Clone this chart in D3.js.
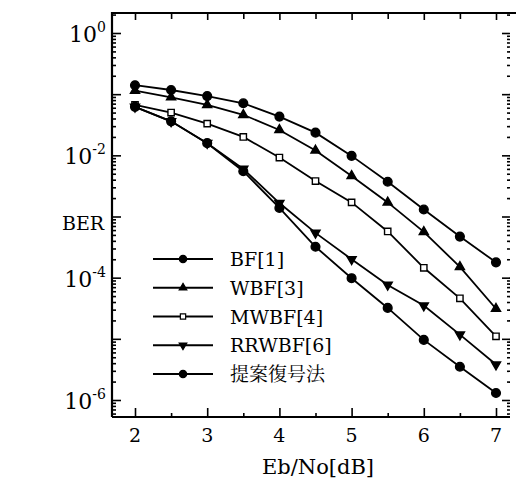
<!DOCTYPE html>
<html>
<head>
<meta charset="utf-8">
<script src="https://cdn.jsdelivr.net/npm/d3@7"></script>
<style>
  body { margin: 0; background: #fff; }
  svg { display: block; }
</style>
</head>
<body>
<div id="chart"></div>
<script>
// data
var ebno = [2, 2.5, 3, 3.5, 4, 4.5, 5, 5.5, 6, 6.5, 7];
var berBF = [0.14, 0.117, 0.093, 0.071, 0.043, 0.0235, 0.0098, 0.0037, 0.0013, 4.7e-4, 1.78e-4];
var berWBF = [0.114, 0.089, 0.067, 0.046, 0.026, 0.012, 0.0046, 0.0017, 5.6e-4, 1.5e-4, 3.1e-5];
var berMWBF = [0.067, 0.05, 0.033, 0.02, 0.0092, 0.0038, 0.0017, 5.7e-4, 1.45e-4, 4.6e-5, 1.1e-5];
var berRRWBF = [0.062, 0.036, 0.0158, 0.006, 0.00166, 5.4e-4, 2.0e-4, 7.6e-5, 3.5e-5, 1.17e-5, 3.8e-6];
var berProposed = [0.062, 0.036, 0.0158, 0.0055, 0.00138, 3.2e-4, 9.8e-5, 3.2e-5, 9.6e-6, 3.5e-6, 1.3e-6];
var seriesNames = ["BF[1]", "WBF[3]", "MWBF[4]", "RRWBF[6]", "提案復号法"];
var xTicks = [2, 3, 4, 5, 6, 7];
var yLabelExps = [0, -2, -4, -6];

var serif = "DejaVu Serif";
var jpFont = "Noto Serif CJK JP";

var width = 516, height = 483;
var pLeft = 112, pRight = 510, pTop = 13, pBottom = 417;

var svg = d3.select("#chart").append("svg")
  .attr("width", width).attr("height", height);

var x = d3.scaleLinear().domain([2, 7]).range([135, 496]);
var y = d3.scaleLog().domain([1, 1e-6]).range([33, 400]);

var decades = d3.range(1, -7, -1).map(function (e) { return Math.pow(10, e); });
var minors = [];
for (var e = 0; e >= -7; e--) {
  for (var m = 2; m <= 9; m++) {
    var v = m * Math.pow(10, e);
    if (y(v) > pTop + 1 && y(v) < pBottom - 1) minors.push(v);
  }
}
var majors = decades.filter(function (v) { return y(v) > pTop && y(v) < pBottom; });
var halfTicks = [2.5, 3.5, 4.5, 5.5, 6.5];

function tickAxis(axis, pos, vals, size) {
  var g = svg.append("g").attr("transform", pos)
    .call(axis.tickValues(vals).tickSizeInner(size).tickSizeOuter(0).tickFormat(""));
  g.select(".domain").remove();
  g.selectAll("line").attr("stroke", "#000").attr("stroke-width", 1.6);
  return g;
}

// left / right ticks (inward)
tickAxis(d3.axisLeft(y), "translate(" + pLeft + ",0)", majors, -9);
tickAxis(d3.axisLeft(y), "translate(" + pLeft + ",0)", minors, -4);
tickAxis(d3.axisRight(y), "translate(" + pRight + ",0)", majors, -8);
tickAxis(d3.axisRight(y), "translate(" + pRight + ",0)", minors, -3);
// bottom / top ticks
tickAxis(d3.axisBottom(x), "translate(0," + pBottom + ")", xTicks, -9);
tickAxis(d3.axisBottom(x), "translate(0," + pBottom + ")", halfTicks, -4);
tickAxis(d3.axisTop(x), "translate(0," + pTop + ")", xTicks, -7);
tickAxis(d3.axisTop(x), "translate(0," + pTop + ")", halfTicks, -6);

// frame (right side is cut off in the scan, only ticks show)
svg.append("path")
  .attr("d", "M" + pLeft + "," + pBottom + "V" + pTop + "H" + width)
  .attr("fill", "none").attr("stroke", "#000").attr("stroke-width", 2.2);
svg.append("line")
  .attr("x1", pLeft).attr("x2", pRight).attr("y1", pBottom).attr("y2", pBottom)
  .attr("stroke", "#000").attr("stroke-width", 2.2);

// x tick labels
svg.selectAll(".xl").data(xTicks).enter().append("text")
  .attr("x", function (d) { return x(d); })
  .attr("y", 442)
  .attr("text-anchor", "middle")
  .attr("font-family", serif)
  .attr("font-size", 19)
  .text(function (d) { return d; });

// y tick labels 10^n
yLabelExps.forEach(function (ex) {
  var t = svg.append("text")
    .attr("x", 106).attr("y", y(Math.pow(10, ex)) + 9)
    .attr("text-anchor", "end")
    .attr("font-family", serif)
    .attr("font-size", 22);
  t.append("tspan").text("10");
  t.append("tspan").attr("dy", -10).attr("font-size", 14).text(ex === 0 ? "0" : ex);
});

svg.append("text").attr("x", 62).attr("y", 230)
  .attr("font-family", serif).attr("font-size", 19).text("BER");
svg.append("text").attr("x", 318).attr("y", 474).attr("text-anchor", "middle")
  .attr("font-family", serif).attr("font-size", 21).text("Eb/No[dB]");

// series
var series = [berBF, berWBF, berMWBF, berRRWBF, berProposed];
var shapes = [
  { type: d3.symbolCircle, size: 60, fill: "#000", rot: 0 },
  { type: d3.symbolTriangle, size: 36, fill: "#000", rot: 0 },
  { type: d3.symbolSquare, size: 40, fill: "#fff", rot: 0 },
  { type: d3.symbolTriangle, size: 36, fill: "#000", rot: 180 },
  { type: d3.symbolCircle, size: 60, fill: "#000", rot: 0 }
];

var line = d3.line()
  .x(function (d) { return x(d[0]); })
  .y(function (d) { return y(d[1]); });

series.forEach(function (vals, i) {
  var pts = ebno.map(function (e, j) { return [e, vals[j]]; });
  svg.append("path").datum(pts)
    .attr("d", line)
    .attr("fill", "none").attr("stroke", "#000").attr("stroke-width", 1.8);
  svg.selectAll(".m" + i).data(pts).enter().append("path")
    .attr("transform", function (d) {
      return "translate(" + x(d[0]) + "," + y(d[1]) + ") rotate(" + shapes[i].rot + ")";
    })
    .attr("d", d3.symbol().type(shapes[i].type).size(shapes[i].size))
    .attr("fill", shapes[i].fill).attr("stroke", "#000").attr("stroke-width", 1.4);
});

// legend
var ly = d3.scalePoint().domain(seriesNames).range([259, 374]);
seriesNames.forEach(function (name, i) {
  var yy = ly(name);
  svg.append("line").attr("x1", 153).attr("x2", 213).attr("y1", yy).attr("y2", yy)
    .attr("stroke", "#000").attr("stroke-width", 1.8);
  svg.append("path")
    .attr("transform", "translate(183," + yy + ") rotate(" + shapes[i].rot + ")")
    .attr("d", d3.symbol().type(shapes[i].type).size(shapes[i].size * 0.7))
    .attr("fill", shapes[i].fill).attr("stroke", "#000").attr("stroke-width", 1.2);
  svg.append("text")
    .attr("font-family", i === 4 ? jpFont : serif)
    .attr("x", 230).attr("y", yy + 7)
    .attr("font-size", 19)
    .text(name);
});
</script>
</body>
</html>
